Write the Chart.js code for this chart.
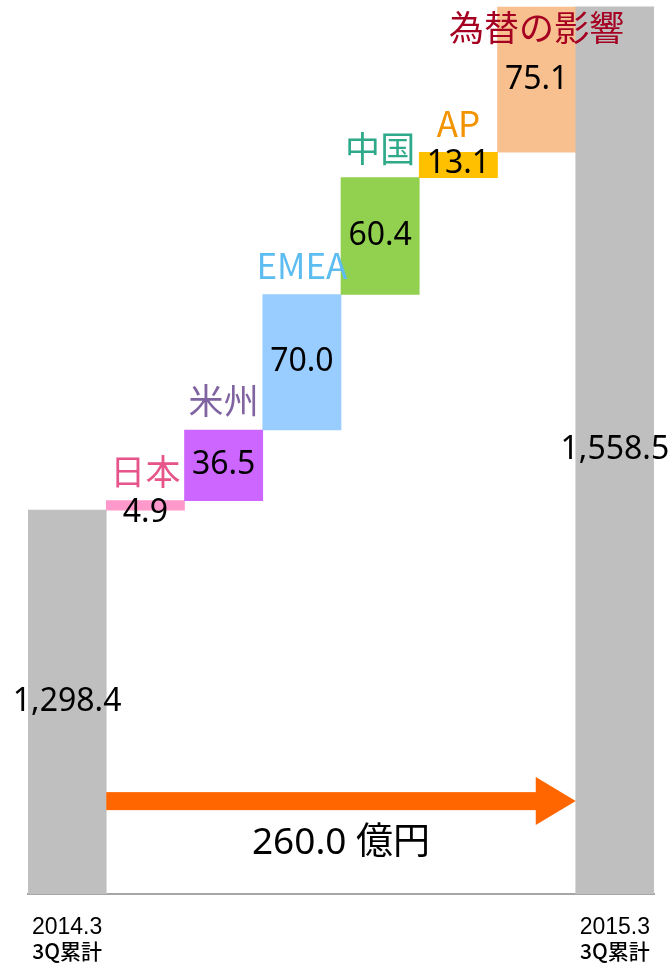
<!DOCTYPE html>
<html>
<head>
<meta charset="utf-8">
<script src="https://cdn.jsdelivr.net/npm/chart.js@4"></script>
<style>
    body { margin: 0; background: #fff; }
    #wrap { width: 671px; height: 963px; }
</style>
</head>
<body>
<div id="wrap"><canvas id="chart"></canvas></div>
<script>
const categories = ['2014.3\n3Q累計', '日本', '米州', 'EMEA', '中国', 'AP', '為替の影響', '2015.3\n3Q累計'];
const startValue = 1298.4;
const endValue = 1558.5;
const changes = [4.9, 36.5, 70.0, 60.4, 13.1, 75.1];
const totalChange = 260.0;
const axisMin = 1100;
const axisMax = 1562;

const barColors = ['#BFBFBF', '#FF99CC', '#CC66FF', '#99CCFF', '#92D050', '#FFC000', '#F9C08F', '#BFBFBF'];
const labelColors = [null, '#E6548A', '#8064A2', '#5DBDF0', '#2EA98A', '#F29400', '#A50021', null];

// build floating bars
const bars = [[axisMin, startValue]];
let running = startValue;
changes.forEach(c => {
    bars.push([running, running + c]);
    running += c;
});
bars.push([axisMin, endValue]);

const valueText = [startValue, ...changes, endValue].map(v =>
    v.toLocaleString('en-US', { minimumFractionDigits: 1, maximumFractionDigits: 1 }));

const labelPlugin = {
    id: 'waterfallLabels',
    afterDatasetsDraw(chart) {
        const ctx = chart.ctx;
        const meta = chart.getDatasetMeta(0);
        const y = chart.scales.y;
        const area = chart.chartArea;
        ctx.save();
        ctx.textAlign = 'center';
        ctx.textBaseline = 'middle';

        meta.data.forEach((bar, i) => {
            const top = Math.min(bar.y, bar.base);
            const bottom = Math.max(bar.y, bar.base);
            let cy = (top + bottom) / 2;
            if (bottom - top < 30) cy = top + 12;
            ctx.fillStyle = '#000';
            ctx.font = '32px "Noto Sans", "Noto Sans CJK JP"';
            ctx.fillText(valueText[i], bar.x, cy);

            if (labelColors[i]) {
                ctx.fillStyle = labelColors[i];
                ctx.font = '35px "Noto Sans CJK JP"';
                ctx.fillText(categories[i], bar.x, Math.max(top - 29, 28));
            } else {
                // category ticks under the two total bars
                const lines = categories[i].split('\n');
                ctx.fillStyle = '#000';
                ctx.font = '23px "Liberation Sans", "Noto Sans CJK JP"';
                ctx.fillText(lines[0], bar.x, area.bottom + 34);
                ctx.font = '500 21px "Noto Sans CJK JP"';
                ctx.fillText(lines[1], bar.x, area.bottom + 57);
            }
        });

        // arrow between the two totals
        const half = meta.data[0].width / 2;
        const x0 = meta.data[0].x + half;
        const x1 = meta.data[7].x - half;
        const ay = y.getPixelForValue(1148);
        ctx.fillStyle = '#FF6600';
        ctx.fillRect(x0, ay - 9, x1 - x0 - 38, 18);
        ctx.beginPath();
        ctx.moveTo(x1 - 40, ay - 24);
        ctx.lineTo(x1, ay);
        ctx.lineTo(x1 - 40, ay + 24);
        ctx.closePath();
        ctx.fill();

        ctx.fillStyle = '#000';
        ctx.font = '37px "Noto Sans", "Noto Sans CJK JP"';
        ctx.fillText(totalChange.toFixed(1) + ' 億円', (x0 + x1) / 2, ay + 42);
        ctx.restore();
    }
};

new Chart(document.getElementById('chart'), {
    type: 'bar',
    data: {
        labels: categories,
        datasets: [{
            data: bars,
            backgroundColor: barColors,
            borderWidth: 0,
            barPercentage: 1,
            categoryPercentage: 1
        }]
    },
    options: {
        responsive: true,
        maintainAspectRatio: false,
        animation: false,
        layout: { padding: { left: 28, right: 17, top: 0, bottom: 69 } },
        plugins: { legend: { display: false }, tooltip: { enabled: false } },
        scales: {
            x: {
                grid: { display: false, drawTicks: false },
                border: { color: '#A6A6A6', width: 2 },
                ticks: { display: false }
            },
            y: {
                display: false,
                min: axisMin,
                max: axisMax
            }
        }
    },
    plugins: [labelPlugin]
});
</script>
</body>
</html>
